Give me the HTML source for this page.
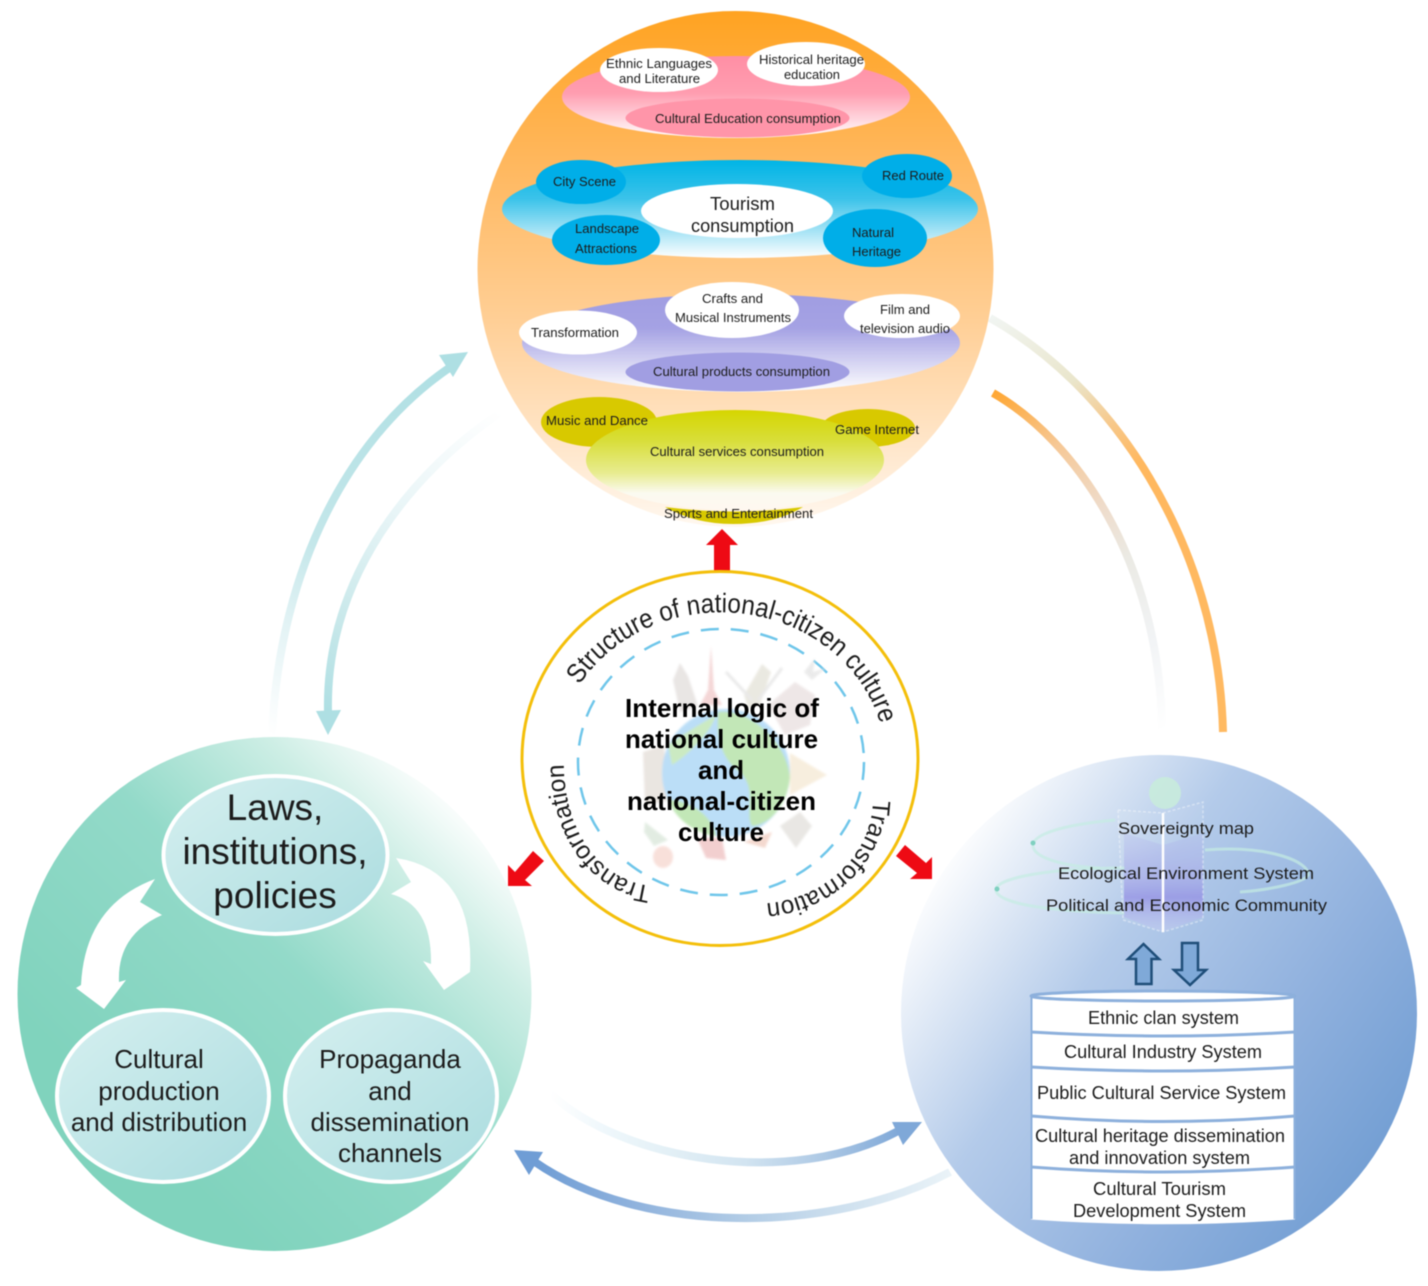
<!DOCTYPE html>
<html lang="en">
<head>
<meta charset="utf-8">
<title>Internal logic of national culture and national-citizen culture</title>
<style>
html,body{margin:0;padding:0;background:#fff;}
svg{display:block;filter:blur(.4px);}
text{font-family:"Liberation Sans",Arial,sans-serif;fill:#1c1c1c;}
</style>
</head>
<body>
<svg xmlns="http://www.w3.org/2000/svg" width="1428" height="1286" viewBox="0 0 1428 1286">
<defs>
<linearGradient id="gTop" x1="0" y1="0" x2="0" y2="1">
  <stop offset="0" stop-color="#ffa321"/><stop offset=".3" stop-color="#ffb85f"/>
  <stop offset=".6" stop-color="#ffcf96"/><stop offset=".85" stop-color="#ffe7cc"/><stop offset="1" stop-color="#fff8f0"/>
</linearGradient>
<linearGradient id="gPink" x1="0" y1="0" x2="0" y2="1">
  <stop offset="0" stop-color="#ff8fa5"/><stop offset=".45" stop-color="#ff9db0"/><stop offset="1" stop-color="#fff"/>
</linearGradient>
<linearGradient id="gBlue" x1="0" y1="0" x2="0" y2="1">
  <stop offset="0" stop-color="#00b5e6"/><stop offset=".4" stop-color="#3cc3ea"/><stop offset="1" stop-color="#fff"/>
</linearGradient>
<linearGradient id="gPurple" x1="0" y1="0" x2="0" y2="1">
  <stop offset="0" stop-color="#a09de2"/><stop offset=".35" stop-color="#a5a2e4"/><stop offset="1" stop-color="#fff"/>
</linearGradient>
<linearGradient id="gOlive" x1="0" y1="0" x2="0" y2="1">
  <stop offset="0" stop-color="#d6d600"/><stop offset=".3" stop-color="#d8de38"/><stop offset=".63" stop-color="#e8ec90"/><stop offset=".83" stop-color="#fbfaf0"/><stop offset="1" stop-color="#fff8f0"/>
</linearGradient>
<linearGradient id="gLeft" gradientUnits="userSpaceOnUse" x1="150" y1="1150" x2="480" y2="820">
  <stop offset="0" stop-color="#80d3bd"/><stop offset=".5" stop-color="#93dac9"/><stop offset=".8" stop-color="#cdeee5"/><stop offset="1" stop-color="#fff"/>
</linearGradient>
<linearGradient id="gInner" x1="0" y1="0" x2="1" y2="1">
  <stop offset="0" stop-color="#d6f0f0"/><stop offset="1" stop-color="#aadcdf"/>
</linearGradient>
<linearGradient id="gRight" gradientUnits="userSpaceOnUse" x1="925" y1="880" x2="1370" y2="1190">
  <stop offset="0" stop-color="#fff"/><stop offset=".35" stop-color="#b4cbea"/><stop offset=".7" stop-color="#90b1de"/><stop offset="1" stop-color="#729ed3"/>
</linearGradient>
<linearGradient id="gA" gradientUnits="userSpaceOnUse" x1="272" y1="735" x2="460" y2="360">
  <stop offset="0" stop-color="#fff"/><stop offset=".25" stop-color="#e3f3f5"/><stop offset=".45" stop-color="#c4e7ea"/><stop offset="1" stop-color="#aedfe3"/>
</linearGradient>
<linearGradient id="gB" gradientUnits="userSpaceOnUse" x1="500" y1="413" x2="328" y2="715">
  <stop offset="0" stop-color="#fff"/><stop offset=".4" stop-color="#e8f5f7"/><stop offset=".75" stop-color="#c8e8ea"/><stop offset="1" stop-color="#aedfe3"/>
</linearGradient>
<linearGradient id="gC" gradientUnits="userSpaceOnUse" x1="993" y1="393" x2="1162" y2="730">
  <stop offset="0" stop-color="#ffa733"/><stop offset=".2" stop-color="#f6c896"/><stop offset=".4" stop-color="#efdccb"/><stop offset=".55" stop-color="#ebeae4"/><stop offset=".78" stop-color="#f2f4f6"/><stop offset="1" stop-color="#fff"/>
</linearGradient>
<linearGradient id="gD" gradientUnits="userSpaceOnUse" x1="990" y1="318" x2="1223" y2="732">
  <stop offset="0" stop-color="#f1f5f2"/><stop offset=".2" stop-color="#eae6cc"/><stop offset=".32" stop-color="#f7c88a"/><stop offset=".42" stop-color="#ffb85f"/><stop offset="1" stop-color="#ffba62"/>
</linearGradient>
<linearGradient id="gE" gradientUnits="userSpaceOnUse" x1="550" y1="1100" x2="900" y2="1130">
  <stop offset="0" stop-color="#fff"/><stop offset=".15" stop-color="#f0f8fc"/><stop offset=".35" stop-color="#e3f0f6"/><stop offset=".57" stop-color="#d2e4f1"/><stop offset=".8" stop-color="#abc7e4"/><stop offset="1" stop-color="#7fa8d8"/>
</linearGradient>
<linearGradient id="gF" gradientUnits="userSpaceOnUse" x1="950" y1="1172" x2="535" y2="1160">
  <stop offset="0" stop-color="#eaf3f8"/><stop offset=".2" stop-color="#d5e5f1"/><stop offset=".48" stop-color="#b3cde6"/><stop offset=".76" stop-color="#8fb2dd"/><stop offset="1" stop-color="#6f9dd5"/>
</linearGradient>
<linearGradient id="gHolo" x1="0" y1="0" x2="0" y2="1">
  <stop offset="0" stop-color="#a9a8ea" stop-opacity=".2"/><stop offset=".45" stop-color="#9a97e6" stop-opacity=".5"/><stop offset=".65" stop-color="#8a84e2" stop-opacity=".7"/><stop offset="1" stop-color="#c6c8f2" stop-opacity=".3"/>
</linearGradient>
<filter id="soft" x="-10%" y="-10%" width="120%" height="120%"><feGaussianBlur stdDeviation="1"/></filter>
<path id="pTop" d="M579.4 685 A165 150 0 0 1 885 777"/>
<path id="pLeft" d="M651 886 C600 880 566 832 564 770 L563 720"/>
<path id="pRight" d="M873 800 C872 855 825 897 770 903 L720 910"/>
</defs>

<rect width="1428" height="1286" fill="#fff"/>

<!-- connectors -->
<g fill="none" stroke-width="8">
  <path d="M272 735 C278 590 335 445 452 366" stroke="url(#gA)"/>
  <path d="M500 413 C415 470 325 575 328 712" stroke="url(#gB)"/>
  <path d="M993 393 C1075 440 1160 560 1162 730" stroke="url(#gC)"/>
  <path d="M990 318 C1110 385 1218 540 1223 732" stroke="url(#gD)"/>
  <path d="M550 1093 C620 1160 790 1190 900 1130" stroke="url(#gE)"/>
  <path d="M950 1172 C830 1235 640 1235 535 1162" stroke="url(#gF)"/>
</g>
<polygon points="468,352 439,355 453,377" fill="#aedfe3"/>
<polygon points="328,735 316,711 341,710" fill="#aedfe3"/>
<polygon points="922,1122 892,1122 903,1145" fill="#7fa8d8"/>
<polygon points="514,1150 543,1152 529,1175" fill="#6f9dd5"/>

<!-- top circle -->
<circle cx="735.5" cy="269" r="258" fill="url(#gTop)"/>
<ellipse cx="736" cy="97" rx="174" ry="41" fill="url(#gPink)"/>
<ellipse cx="737.5" cy="118" rx="112" ry="19.5" fill="#ff95a9"/>
<ellipse cx="659" cy="70" rx="59" ry="22" fill="#fff"/>
<ellipse cx="806" cy="64" rx="59" ry="22" fill="#fff"/>
<ellipse cx="740" cy="209" rx="238" ry="49" fill="url(#gBlue)"/>
<ellipse cx="737" cy="211" rx="96" ry="27" fill="#fff"/>
<ellipse cx="581" cy="182" rx="45" ry="22" fill="#00aee8"/>
<ellipse cx="907" cy="176" rx="45" ry="22" fill="#00aee8"/>
<ellipse cx="606" cy="240" rx="54" ry="25" fill="#00aee8"/>
<ellipse cx="875" cy="238" rx="52" ry="29" fill="#00aee8"/>
<ellipse cx="741" cy="343" rx="219" ry="49" fill="url(#gPurple)"/>
<ellipse cx="737.5" cy="372" rx="112" ry="19.5" fill="#a19ee2"/>
<ellipse cx="732" cy="310" rx="67" ry="28" fill="#fff"/>
<ellipse cx="902" cy="316" rx="58" ry="22" fill="#fff"/>
<ellipse cx="578" cy="332.5" rx="59" ry="22" fill="#fff"/>
<ellipse cx="599" cy="422" rx="58" ry="25" fill="#d8c900"/>
<ellipse cx="868" cy="428" rx="47" ry="19" fill="#d8c900"/>
<ellipse cx="735" cy="460" rx="149" ry="50" fill="url(#gOlive)"/>
<path d="M665 507 Q735 516 803 507 Q775 524 733 524 Q695 524 665 507 Z" fill="#d8c900"/>

<g font-size="13">
<text x="606" y="68" textLength="106" lengthAdjust="spacingAndGlyphs">Ethnic Languages</text>
<text x="619" y="83" textLength="81" lengthAdjust="spacingAndGlyphs">and Literature</text>
<text x="759" y="64" textLength="105" lengthAdjust="spacingAndGlyphs">Historical heritage</text>
<text x="784" y="79" textLength="56" lengthAdjust="spacingAndGlyphs">education</text>
<text x="655" y="123" textLength="186" lengthAdjust="spacingAndGlyphs">Cultural Education consumption</text>
<text x="553" y="186" textLength="63" lengthAdjust="spacingAndGlyphs">City Scene</text>
<text x="882" y="180" textLength="62" lengthAdjust="spacingAndGlyphs">Red Route</text>
<text x="575" y="233" textLength="64" lengthAdjust="spacingAndGlyphs">Landscape</text>
<text x="575" y="253" textLength="62" lengthAdjust="spacingAndGlyphs">Attractions</text>
<text x="852" y="237" textLength="42" lengthAdjust="spacingAndGlyphs">Natural</text>
<text x="852" y="256" textLength="49" lengthAdjust="spacingAndGlyphs">Heritage</text>
<text x="702" y="303" textLength="61" lengthAdjust="spacingAndGlyphs">Crafts and</text>
<text x="675" y="322" textLength="116" lengthAdjust="spacingAndGlyphs">Musical Instruments</text>
<text x="880" y="314" textLength="50" lengthAdjust="spacingAndGlyphs">Film and</text>
<text x="860" y="333" textLength="90" lengthAdjust="spacingAndGlyphs">television audio</text>
<text x="531" y="337" textLength="88" lengthAdjust="spacingAndGlyphs">Transformation</text>
<text x="653" y="376" textLength="177" lengthAdjust="spacingAndGlyphs">Cultural products consumption</text>
<text x="546" y="425" textLength="102" lengthAdjust="spacingAndGlyphs">Music and Dance</text>
<text x="835" y="434" textLength="84" lengthAdjust="spacingAndGlyphs">Game Internet</text>
<text x="650" y="456" textLength="174" lengthAdjust="spacingAndGlyphs">Cultural services consumption</text>
<text x="664" y="518" textLength="149" lengthAdjust="spacingAndGlyphs">Sports and Entertainment</text>
</g>
<g font-size="18">
<text x="710" y="210" textLength="65" lengthAdjust="spacingAndGlyphs">Tourism</text>
<text x="691" y="232" textLength="103" lengthAdjust="spacingAndGlyphs">consumption</text>
</g>

<!-- red arrows -->
<g fill="#ee0a14">
<polygon points="722,529 738,545 730,545 730,572 714,572 714,545 706,545"/>
<polygon points="508,886 508,865 515,872 533,851 544,861 525,880 532,886"/>
<polygon points="905,845 896,856 917,873 910,879 932,879 932,857 926,863"/>
</g>

<!-- center circle -->
<ellipse cx="720" cy="758.5" rx="198" ry="187" fill="#fff" stroke="#f4bf0a" stroke-width="3"/>
<ellipse cx="721" cy="762" rx="143" ry="133" fill="none" stroke="#6fc6ea" stroke-width="2.5" stroke-dasharray="18 12"/>

<!-- globe illustration -->
<g filter="url(#soft)" opacity=".8">
  <path d="M711 646 L714 690 L722 705 L700 705 L708 690 Z" fill="#f2cccc"/>
  <path d="M673 680 L680 663 L688 676 L698 706 L680 712 Z" fill="#e4e0de"/>
  <path d="M744 695 L762 664 L771 672 L760 705 L748 708 Z" fill="#e6e4da"/>
  <path d="M768 705 L795 682 L815 695 L810 725 L785 735 Z" fill="#ebe2e2"/>
  <path d="M790 753 L827 775 L790 795 Z" fill="#f6ead6"/>
  <path d="M643 752 L664 745 L668 800 L645 806 Z" fill="#e6e0da"/>
  <path d="M726 672 L752 700 M758 700 L782 668" stroke="#e4e4e4" stroke-width="3" fill="none"/>
  <ellipse cx="663" cy="857" rx="10" ry="11" fill="#f7d9d2"/>
  <path d="M697 838 L706 858 L726 860 L722 838 Z" fill="#f0c4c4"/>
  <path d="M744 842 L765 848 L772 832 Z" fill="#f2d0c4"/>
  <path d="M645 822 L668 840 L654 846 L644 832 Z" fill="#dce8dc"/>
  <path d="M804 672 L815 658 L813 672 L826 668 L812 680 Z" fill="#e6e6e6"/>
  <path d="M780 826 L800 812 L812 826 L796 848 Z" fill="#e4e2de"/>
  <circle cx="726" cy="773" r="64" fill="#abd7f6"/>
  <path d="M718 712 C752 708 788 745 790 778 C786 812 764 826 752 826 C744 812 758 790 740 772 C722 760 716 738 718 712 Z" fill="#b3e2a6"/>
  <path d="M668 800 C688 800 712 814 716 836 C696 834 676 820 668 800 Z" fill="#b3e2a6"/>
  <path d="M668 745 C682 735 700 724 716 715 C712 730 692 752 672 765 Z" fill="#bfe6b4"/>
</g>

<g font-size="26" font-weight="700">
<text x="625" y="717" textLength="194" lengthAdjust="spacingAndGlyphs" style="fill:#000">Internal logic of</text>
<text x="625" y="748" textLength="193" lengthAdjust="spacingAndGlyphs" style="fill:#000">national culture</text>
<text x="698" y="779" textLength="46" lengthAdjust="spacingAndGlyphs" style="fill:#000">and</text>
<text x="627" y="810" textLength="189" lengthAdjust="spacingAndGlyphs" style="fill:#000">national-citizen</text>
<text x="678" y="841" textLength="86" lengthAdjust="spacingAndGlyphs" style="fill:#000">culture</text>
</g>
<g>
<text font-size="27"><textPath href="#pTop" textLength="374" lengthAdjust="spacingAndGlyphs">Structure of national-citizen culture</textPath></text>
<text font-size="25"><textPath href="#pLeft" textLength="164" lengthAdjust="spacingAndGlyphs">Transformation</textPath></text>
<text font-size="25"><textPath href="#pRight" textLength="163" lengthAdjust="spacingAndGlyphs">Transformation</textPath></text>
</g>

<!-- left circle -->
<circle cx="274.5" cy="994" r="257" fill="url(#gLeft)"/>
<path d="M155 879 Q85 905 81 985 L76 988 L104 1009 L126 980 L119 982 Q117 935 162 915 L140 902 Z" fill="#fff"/>
<path d="M396 858 Q475 870 470 972 L444 990 L423 961 L431 964 Q432 905 391 894 L411 882 Z" fill="#fff"/>
<ellipse cx="275.5" cy="855" rx="112" ry="79" fill="url(#gInner)" stroke="#fff" stroke-width="4"/>
<ellipse cx="163" cy="1096" rx="106" ry="86" fill="url(#gInner)" stroke="#fff" stroke-width="4"/>
<ellipse cx="391" cy="1096" rx="106" ry="86" fill="url(#gInner)" stroke="#fff" stroke-width="4"/>
<g font-size="37" text-anchor="middle">
<text x="275" y="820">Laws,</text>
<text x="275" y="864">institutions,</text>
<text x="275" y="908">policies</text>
</g>
<g font-size="26" text-anchor="middle">
<text x="159" y="1068">Cultural</text>
<text x="159" y="1100">production</text>
<text x="159" y="1131">and distribution</text>
<text x="390" y="1068">Propaganda</text>
<text x="390" y="1100">and</text>
<text x="390" y="1131">dissemination</text>
<text x="390" y="1162">channels</text>
</g>

<!-- right circle -->
<circle cx="1159" cy="1013" r="258" fill="url(#gRight)"/>
<!-- hologram -->
<g fill="none" stroke="#c4ece2" stroke-width="3" stroke-opacity=".7">
  <path d="M1125 868 C1050 868 995 878 996 890 C997 905 1060 912 1125 913"/>
  <path d="M1115 820 C1060 825 1032 835 1033 846 C1034 857 1060 866 1100 868"/>
  <path d="M1205 850 C1270 845 1310 862 1308 875 C1306 882 1270 890 1240 892"/>
</g>
<circle cx="997" cy="889" r="2.5" fill="#7fd0c0"/>
<circle cx="1033" cy="843" r="2.5" fill="#7fd0c0"/>
<circle cx="1165" cy="793" r="16" fill="#c8ecda" opacity=".85"/>
<path d="M1124 833 L1163 845 L1203 833 L1203 917 L1163 932 L1124 917 Z" fill="url(#gHolo)"/>
<path d="M1118 810 L1163 813 L1203 802 L1203 920 L1163 932 L1123 920 Z" fill="#fff" fill-opacity=".06" stroke="#fff" stroke-opacity=".4" stroke-width="1.5" stroke-dasharray="3 2"/>
<path d="M1163 813 L1163 932" stroke="#fff" stroke-width="2.5"/>
<g font-size="17" style="fill:#222">
<text x="1118" y="834" textLength="136" lengthAdjust="spacingAndGlyphs">Sovereignty map</text>
<text x="1058" y="879" textLength="256" lengthAdjust="spacingAndGlyphs">Ecological Environment System</text>
<text x="1046" y="911" textLength="281" lengthAdjust="spacingAndGlyphs">Political and Economic Community</text>
</g>

<!-- hollow arrows -->
<g fill="#7fa9d8" stroke="#1f4e79" stroke-width="2.5" stroke-linejoin="miter">
<polygon points="1143.5,944 1159,959 1151.5,959 1151.5,984 1136,984 1136,959 1128,959"/>
<polygon points="1182,943 1198,943 1198,970 1206,970 1190,985 1174,970 1182,970"/>
</g>

<!-- cylinder -->
<path d="M1031 996 L1031 1219.5 Q1163 1229 1295 1219.5 L1295 996 Z" fill="#fff"/>
<g fill="none" stroke="#8db0dc" stroke-width="3">
<path d="M1031.5 996 L1031.5 1219 M1294.5 996 L1294.5 1219" stroke-width="2"/>
<ellipse cx="1163" cy="996" rx="132" ry="5" fill="#fff"/>
<path d="M1031 1032 Q1163 1040 1295 1032"/>
<path d="M1031 1067 Q1163 1075 1295 1067"/>
<path d="M1031 1116 Q1163 1127 1295 1116"/>
<path d="M1031 1167 Q1163 1177 1295 1167"/>
</g>
<g font-size="18">
<text x="1088" y="1024" textLength="151" lengthAdjust="spacingAndGlyphs">Ethnic clan system</text>
<text x="1064" y="1058" textLength="198" lengthAdjust="spacingAndGlyphs">Cultural Industry System</text>
<text x="1037" y="1099" textLength="249" lengthAdjust="spacingAndGlyphs">Public Cultural Service System</text>
<text x="1035" y="1142" textLength="250" lengthAdjust="spacingAndGlyphs">Cultural heritage dissemination</text>
<text x="1069" y="1164" textLength="181" lengthAdjust="spacingAndGlyphs">and innovation system</text>
<text x="1093" y="1195" textLength="133" lengthAdjust="spacingAndGlyphs">Cultural Tourism</text>
<text x="1073" y="1217" textLength="173" lengthAdjust="spacingAndGlyphs">Development System</text>
</g>
</svg>
</body>
</html>
